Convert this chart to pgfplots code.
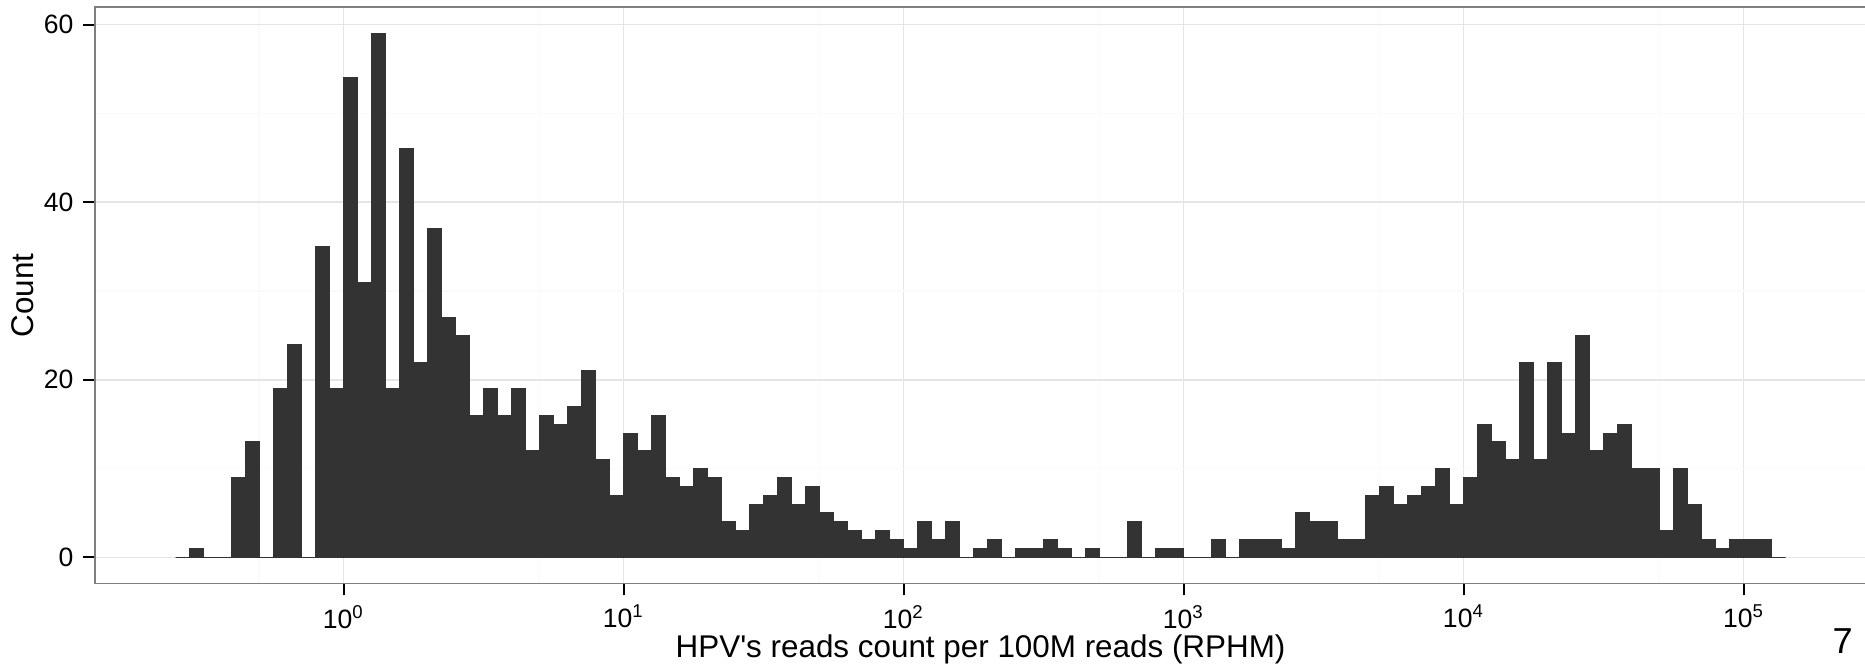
\documentclass[border=0pt]{standalone}
\usepackage{pgfplots}
\pgfplotsset{compat=1.18}
\usepackage{pgfplotstable}
\usepackage{fontspec}
\setmainfont{Liberation Sans}
\definecolor{barfill}{HTML}{333333}
\definecolor{grey50}{HTML}{7F7F7F}
\definecolor{grey90}{HTML}{E5E5E5}
\definecolor{grey98}{HTML}{FAFAFA}

\pgfplotstableread{
logx count
-0.60 0
-0.55 1
-0.50 0
-0.45 0
-0.40 9
-0.35 13
-0.30 0
-0.25 19
-0.20 24
-0.15 0
-0.10 35
-0.05 19
0.00 54
0.05 31
0.10 59
0.15 19
0.20 46
0.25 22
0.30 37
0.35 27
0.40 25
0.45 16
0.50 19
0.55 16
0.60 19
0.65 12
0.70 16
0.75 15
0.80 17
0.85 21
0.90 11
0.95 7
1.00 14
1.05 12
1.10 16
1.15 9
1.20 8
1.25 10
1.30 9
1.35 4
1.40 3
1.45 6
1.50 7
1.55 9
1.60 6
1.65 8
1.70 5
1.75 4
1.80 3
1.85 2
1.90 3
1.95 2
2.00 1
2.05 4
2.10 2
2.15 4
2.20 0
2.25 1
2.30 2
2.35 0
2.40 1
2.45 1
2.50 2
2.55 1
2.60 0
2.65 1
2.70 0
2.75 0
2.80 4
2.85 0
2.90 1
2.95 1
3.00 0
3.05 0
3.10 2
3.15 0
3.20 2
3.25 2
3.30 2
3.35 1
3.40 5
3.45 4
3.50 4
3.55 2
3.60 2
3.65 7
3.70 8
3.75 6
3.80 7
3.85 8
3.90 10
3.95 6
4.00 9
4.05 15
4.10 13
4.15 11
4.20 22
4.25 11
4.30 22
4.35 14
4.40 25
4.45 12
4.50 14
4.55 15
4.60 10
4.65 10
4.70 3
4.75 10
4.80 6
4.85 2
4.90 1
4.95 2
5.00 2
5.05 2
5.10 0
5.15 0
}\histdata

\begin{document}
\begin{tikzpicture}
\begin{axis}[
  at={(0pt,0pt)}, anchor=south west,
  scale only axis,
  width=637.4pt, height=207.36pt,
  xmin=-0.8875, xmax=5.4375,
  ymin=-2.95, ymax=61.95,
  xtick={0,1,2,3,4,5},
  xticklabels={10\textsuperscript{0},10\textsuperscript{1},10\textsuperscript{2},10\textsuperscript{3},10\textsuperscript{4},10\textsuperscript{5}},
  minor xtick={-0.30103,0.69897,1.69897,2.69897,3.69897,4.69897},
  ytick={0,20,40,60},
  minor ytick={10,30,50},
  grid=both,
  major grid style={color=grey90, line width=0.55pt},
  minor grid style={color=grey98, line width=0.55pt},
  axis line style={draw=grey50, line width=0.65pt},
  tick align=outside,
  tick pos=left,
  major tick length=4.25pt,
  minor tick length=0pt,
  major tick style={black, line width=0.75pt},
  /pgf/number format/assume math mode=true,
  tick label style={font=\fontsize{9.55}{11}\selectfont, black},
  label style={font=\fontsize{11.3}{13}\selectfont},
  xlabel={HPV\textquotesingle s reads count per 100M reads (RPHM)},
  ylabel={Count},
  xlabel style={at={(axis description cs:0.5,-0.1278)}, anchor=base},
  ylabel style={at={(axis description cs:-0.035,0.5)}, anchor=base},
]
\addplot[ybar interval, fill=barfill, draw=barfill, line width=0.35pt] table[x=logx, y=count] {\histdata};
\end{axis}
\node[anchor=base east, font=\fontsize{13}{15}\selectfont] at (636.1pt,-25.1pt) {7};
\pgfresetboundingbox
\useasboundingbox (-34.2pt,-30.76pt) rectangle (637.0pt,210.0pt);
\end{tikzpicture}
\end{document}
